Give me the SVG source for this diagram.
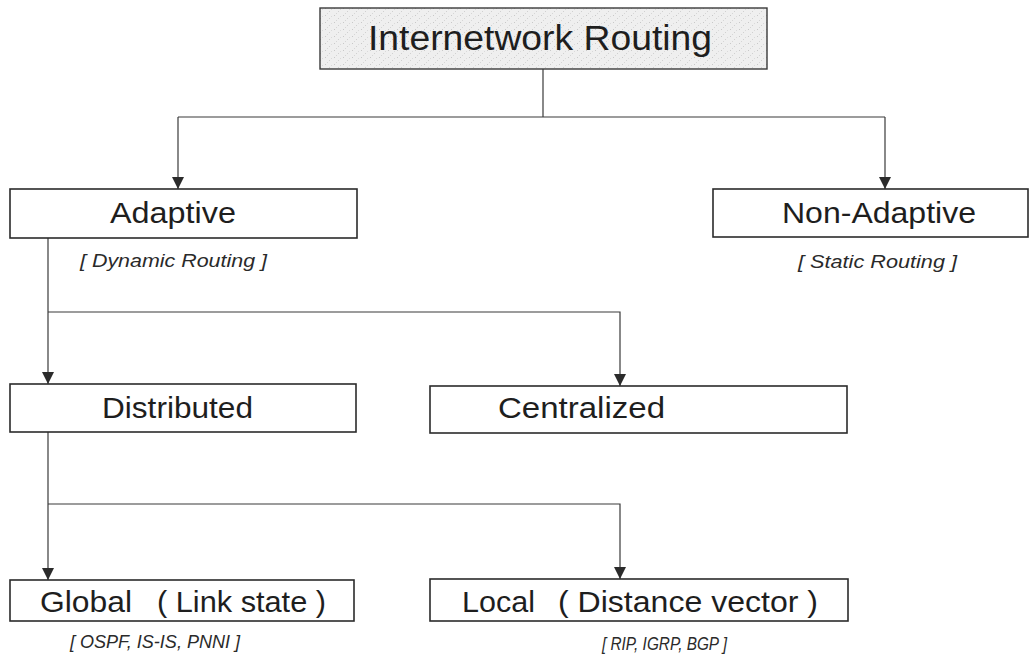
<svg xmlns="http://www.w3.org/2000/svg" width="1031" height="662" viewBox="0 0 1031 662">
  <style>
    .box { fill: #ffffff; stroke: #2b2b2b; stroke-width: 1.6; }
    .root { fill: url(#stipple); stroke: #3a3a3a; stroke-width: 1.4; }
    .lbl { font-family: "Liberation Sans", Arial, sans-serif; font-size: 29px; fill: #1e1e1e; }
    .title { font-family: "Liberation Sans", Arial, sans-serif; font-size: 35px; fill: #1e1e1e; }
    .note { font-family: "Liberation Sans", Arial, sans-serif; font-size: 19px; font-style: italic; fill: #2a2a2a; }
    .wire { fill: none; stroke: #3a3a3a; stroke-width: 1.2; }
  </style>
  <defs>
    <pattern id="stipple" width="9" height="7" patternUnits="userSpaceOnUse">
      <rect width="9" height="7" fill="#efefef"/>
      <rect x="1" y="1" width="1" height="1" fill="#c8c8c8"/>
      <rect x="5" y="4" width="1" height="1" fill="#d0d0d0"/>
      <rect x="7" y="2" width="1" height="1" fill="#dadada"/>
      <rect x="3" y="6" width="1" height="1" fill="#d6d6d6"/>
    </pattern>
    <marker id="arrow" viewBox="0 0 12 12" refX="12" refY="6" markerWidth="12" markerHeight="12" markerUnits="userSpaceOnUse" orient="auto">
      <path d="M0,0 L12,6 L0,12 Z" fill="#2b2b2b"/>
    </marker>
  </defs>

  <rect width="1031" height="662" fill="#ffffff"/>

  <!-- connectors -->
  <g id="connectors">
    <path class="wire" d="M543,69 V117"/>
    <path class="wire" d="M178,117 H885"/>
    <path class="wire" d="M178,117 V189" marker-end="url(#arrow)"/>
    <path class="wire" d="M885,117 V189" marker-end="url(#arrow)"/>

    <path class="wire" d="M48,238 V384" marker-end="url(#arrow)"/>
    <path class="wire" d="M48,312 H620 V386" marker-end="url(#arrow)"/>

    <path class="wire" d="M48,432 V580" marker-end="url(#arrow)"/>
    <path class="wire" d="M48,504 H620 V579" marker-end="url(#arrow)"/>
  </g>

  <!-- root -->
  <g id="internetwork-routing">
    <rect class="root" x="320" y="8" width="447" height="61"/>
    <text class="title" x="368" y="50" textLength="344" lengthAdjust="spacingAndGlyphs">Internetwork Routing</text>
  </g>

  <!-- level 1 -->
  <g id="adaptive">
    <rect class="box" x="10" y="189" width="347" height="49"/>
    <text class="lbl" x="110" y="223" textLength="126" lengthAdjust="spacingAndGlyphs">Adaptive</text>
    <text class="note" x="80" y="267" textLength="187" lengthAdjust="spacingAndGlyphs">[ Dynamic Routing ]</text>
  </g>

  <g id="non-adaptive">
    <rect class="box" x="713" y="189" width="315" height="48"/>
    <text class="lbl" x="782" y="223" textLength="194" lengthAdjust="spacingAndGlyphs">Non-Adaptive</text>
    <text class="note" x="798" y="268" textLength="159" lengthAdjust="spacingAndGlyphs">[ Static Routing ]</text>
  </g>

  <!-- level 2 -->
  <g id="distributed">
    <rect class="box" x="10" y="384" width="346" height="48"/>
    <text class="lbl" x="102" y="418" textLength="151" lengthAdjust="spacingAndGlyphs">Distributed</text>
  </g>

  <g id="centralized">
    <rect class="box" x="430" y="386" width="417" height="47"/>
    <text class="lbl" x="498" y="418" textLength="167" lengthAdjust="spacingAndGlyphs">Centralized</text>
  </g>

  <!-- level 3 -->
  <g id="global">
    <rect class="box" x="10" y="580" width="344" height="41"/>
    <text class="lbl" x="40" y="612" textLength="92" lengthAdjust="spacingAndGlyphs">Global</text>
    <text class="lbl" x="157" y="612" textLength="169" lengthAdjust="spacingAndGlyphs">( Link state )</text>
    <text class="note" x="70" y="648" textLength="170" lengthAdjust="spacingAndGlyphs">[ OSPF, IS-IS, PNNI ]</text>
  </g>

  <g id="local">
    <rect class="box" x="430" y="579" width="418" height="42"/>
    <text class="lbl" x="462" y="612" textLength="73" lengthAdjust="spacingAndGlyphs">Local</text>
    <text class="lbl" x="558" y="612" textLength="260" lengthAdjust="spacingAndGlyphs">( Distance vector )</text>
    <text class="note" x="602" y="650" textLength="125" lengthAdjust="spacingAndGlyphs">[ RIP, IGRP, BGP ]</text>
  </g>
</svg>
